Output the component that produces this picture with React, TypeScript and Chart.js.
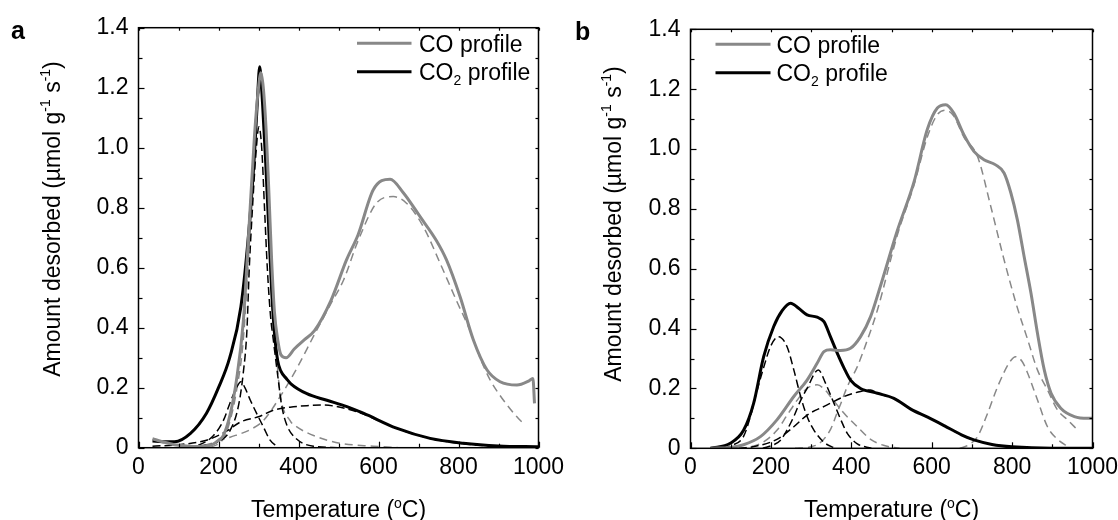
import React, { useEffect, useRef } from 'react';
import { Chart, registerables } from 'chart.js';
Chart.register(...registerables);

const FONT = "'Liberation Sans', Arial, Helvetica, sans-serif";
Chart.defaults.font.family = FONT;

// ---------- axis ticks ----------
const X_TICKS = [0, 200, 400, 600, 800, 1000];
const X_MINOR = [100, 300, 500, 700, 900];
const Y_TICKS = [0, 0.2, 0.4, 0.6, 0.8, 1.0, 1.2, 1.4];
const Y_MINOR = [0.1, 0.3, 0.5, 0.7, 0.9, 1.1, 1.3];

// ---------- panel a ----------
const A_CO_T = [35, 60, 90, 120, 150, 180, 200, 212, 229, 245, 262, 277, 290, 300, 306, 312, 319, 326, 333, 340, 348, 356, 369, 390, 415, 440, 481, 520, 549, 587, 629, 662, 704, 745, 770, 804, 837, 871, 904, 946, 975, 986, 990];
const A_CO_V = [0.03, 0.02, 0.01, 0.006, 0.004, 0.008, 0.025, 0.04, 0.11, 0.226, 0.42, 0.75, 1.04, 1.2, 1.25, 1.2, 1.06, 0.85, 0.62, 0.45, 0.36, 0.31, 0.30, 0.33, 0.36, 0.39, 0.49, 0.626, 0.71, 0.86, 0.895, 0.85, 0.77, 0.69, 0.626, 0.503, 0.36, 0.26, 0.22, 0.209, 0.222, 0.231, 0.148];

const A_CO2_T = [35, 60, 90, 130, 170, 200, 228, 256, 277, 290, 297, 303, 310, 318, 326, 333, 340, 348, 356, 370, 381, 421, 471, 521, 562, 645, 729, 812, 900, 1000];
const A_CO2_V = [0.022, 0.02, 0.02, 0.048, 0.115, 0.2, 0.3, 0.47, 0.74, 0.98, 1.15, 1.27, 1.15, 0.95, 0.72, 0.52, 0.38, 0.29, 0.255, 0.23, 0.213, 0.18, 0.158, 0.137, 0.115, 0.065, 0.031, 0.015, 0.006, 0.003];

// CO2 components (black dashed)
const A_CO2_P1_T = [150, 200, 230, 250, 262, 271, 277, 285, 293, 301, 308, 315, 322, 330, 337, 350, 358, 371, 396, 437, 500];
const A_CO2_P1_V = [0.005, 0.02, 0.06, 0.14, 0.25, 0.39, 0.6, 0.8, 0.97, 1.07, 1.0, 0.8, 0.6, 0.44, 0.36, 0.22, 0.14, 0.075, 0.028, 0.005, 0.0];
const A_CO2_P2_T = [120, 150, 187, 212, 229, 245, 256, 266, 279, 295, 312, 329, 345];
const A_CO2_P2_V = [0.0, 0.008, 0.04, 0.09, 0.15, 0.2, 0.22, 0.2, 0.16, 0.115, 0.07, 0.025, 0.005];
const A_CO2_P3_T = [35, 100, 170, 220, 254, 304, 337, 379, 421, 462, 520, 562, 645, 729, 812, 900, 1000];
const A_CO2_P3_V = [0.005, 0.01, 0.025, 0.055, 0.085, 0.105, 0.125, 0.135, 0.14, 0.142, 0.13, 0.112, 0.065, 0.031, 0.013, 0.004, 0.0];

// CO components (grey dashed)
const A_CO_P1_T = [180, 212, 229, 245, 262, 277, 290, 300, 306, 312, 319, 331, 344, 354, 379, 395, 445, 504, 587, 650];
const A_CO_P1_V = [0.0, 0.03, 0.09, 0.19, 0.36, 0.68, 1.0, 1.17, 1.2, 1.15, 1.0, 0.62, 0.33, 0.18, 0.09, 0.07, 0.037, 0.015, 0.005, 0.0];
const A_CO_P2_T = [100, 170, 206, 229, 279, 312, 354, 396, 437, 481, 513, 549, 598, 637, 670, 712, 754, 795, 829, 854, 879, 912, 946, 962];
const A_CO_P2_V = [0.0, 0.01, 0.025, 0.035, 0.06, 0.09, 0.17, 0.265, 0.37, 0.48, 0.56, 0.69, 0.82, 0.837, 0.815, 0.737, 0.615, 0.49, 0.39, 0.30, 0.226, 0.159, 0.103, 0.081];

// ---------- panel b ----------
const B_CO_T = [50, 100, 132, 174, 215, 257, 290, 315, 332, 348, 373, 398, 423, 448, 472, 514, 556, 589, 614, 635, 655, 680, 705, 730, 759, 780, 797, 813, 830, 847, 863, 880, 897, 921, 955, 988, 1000];
const B_CO_V = [0.0, 0.003, 0.012, 0.039, 0.095, 0.173, 0.228, 0.284, 0.323, 0.329, 0.327, 0.334, 0.373, 0.44, 0.54, 0.725, 0.89, 1.065, 1.137, 1.148, 1.12, 1.048, 0.992, 0.964, 0.947, 0.92, 0.853, 0.764, 0.64, 0.518, 0.385, 0.262, 0.184, 0.134, 0.106, 0.1, 0.1];

const B_CO2_T = [50, 99, 132, 157, 182, 207, 228, 249, 269, 290, 315, 332, 348, 365, 382, 398, 423, 465, 506, 549, 590, 632, 674, 705, 750, 800, 900, 1000];
const B_CO2_V = [0.0, 0.017, 0.06, 0.15, 0.306, 0.407, 0.46, 0.485, 0.468, 0.446, 0.438, 0.423, 0.373, 0.318, 0.268, 0.228, 0.2, 0.184, 0.167, 0.13, 0.104, 0.075, 0.045, 0.028, 0.013, 0.005, 0.0, 0.0];

const B_CO2_P1_T = [80, 100, 132, 149, 166, 182, 199, 219, 240, 257, 274, 290, 307, 332, 360];
const B_CO2_P1_V = [0.0, 0.008, 0.04, 0.106, 0.195, 0.27, 0.34, 0.373, 0.34, 0.262, 0.173, 0.106, 0.061, 0.02, 0.0];
const B_CO2_P2_T = [180, 207, 224, 240, 257, 274, 290, 318, 336, 357, 374, 390, 415, 450];
const B_CO2_P2_V = [0.0, 0.012, 0.027, 0.061, 0.106, 0.16, 0.2, 0.262, 0.217, 0.15, 0.095, 0.05, 0.015, 0.0];
const B_CO2_P3_T = [120, 155, 215, 257, 290, 340, 382, 423, 448, 465, 506, 549, 590, 632, 674, 705, 750, 800, 900];
const B_CO2_P3_V = [0.0, 0.005, 0.03, 0.072, 0.111, 0.145, 0.173, 0.19, 0.195, 0.184, 0.167, 0.13, 0.104, 0.075, 0.045, 0.028, 0.013, 0.005, 0.0];

const B_CO_P1_T = [120, 150, 180, 215, 240, 265, 290, 315, 335, 348, 382, 415, 448, 480, 520];
const B_CO_P1_V = [0.0, 0.005, 0.02, 0.06, 0.11, 0.16, 0.2, 0.212, 0.195, 0.173, 0.117, 0.072, 0.03, 0.01, 0.0];
const B_CO_P2_T = [260, 300, 324, 349, 365, 374, 390, 415, 440, 465, 514, 556, 589, 614, 635, 655, 680, 714, 747, 780, 813, 839, 863, 888, 913, 938, 963];
const B_CO_P2_V = [0.0, 0.005, 0.02, 0.065, 0.12, 0.15, 0.206, 0.273, 0.362, 0.462, 0.71, 0.88, 1.04, 1.115, 1.13, 1.11, 1.04, 0.975, 0.808, 0.63, 0.47, 0.362, 0.262, 0.195, 0.128, 0.095, 0.061];
const B_CO_P3_T = [670, 690, 714, 739, 764, 795, 809, 825, 839, 863, 888, 913, 940];
const B_CO_P3_V = [0.0, 0.01, 0.039, 0.117, 0.206, 0.29, 0.306, 0.29, 0.25, 0.162, 0.072, 0.03, 0.005];

const GREY = '#888888';
const BLACK = '#000000';

type Part = { t: string; sup?: boolean; sub?: boolean };

function partFont(p: Part, size: number) {
  return `${p.sup || p.sub ? Math.round(size * 0.6) : size}px ${FONT}`;
}
function richWidth(ctx: CanvasRenderingContext2D, parts: Part[], size: number) {
  let w = 0;
  for (const p of parts) {
    ctx.font = partFont(p, size);
    w += ctx.measureText(p.t).width;
  }
  return w;
}
function drawRich(ctx: CanvasRenderingContext2D, parts: Part[], x: number, y: number, size: number) {
  let cx = x;
  ctx.textBaseline = 'alphabetic';
  ctx.textAlign = 'left';
  for (const p of parts) {
    ctx.font = partFont(p, size);
    const dy = p.sup ? -size * 0.4 : p.sub ? size * 0.22 : 0;
    ctx.fillText(p.t, cx, y + dy);
    cx += ctx.measureText(p.t).width;
  }
}

const Y_TITLE: Part[] = [
  { t: 'Amount desorbed (\u00B5mol g' },
  { t: '-1', sup: true },
  { t: ' s' },
  { t: '-1', sup: true },
  { t: ')' },
];
const X_TITLE: Part[] = [{ t: 'Temperature (' }, { t: 'o', sup: true }, { t: 'C)' }];
const LEG_CO: Part[] = [{ t: 'CO profile' }];
const LEG_CO2: Part[] = [{ t: 'CO' }, { t: '2', sub: true }, { t: ' profile' }];

const decorPlugin = {
  id: 'decor',
  afterDraw(chart: any) {
    const o = chart.options.plugins.decor;
    const { ctx, chartArea: ca, scales } = chart;
    const xs = scales.x;
    const ys = scales.y;
    ctx.save();
    ctx.strokeStyle = '#000';
    ctx.fillStyle = '#000';
    ctx.lineWidth = 1.5;
    ctx.setLineDash([]);
    ctx.strokeRect(ca.left, ca.top, ca.right - ca.left, ca.bottom - ca.top);
    const seg = (x1: number, y1: number, x2: number, y2: number) => {
      ctx.beginPath();
      ctx.moveTo(x1, y1);
      ctx.lineTo(x2, y2);
      ctx.stroke();
    };
    ctx.lineWidth = 1.2;
    X_TICKS.forEach((t) => {
      const p = Math.round(xs.getPixelForValue(t)) + 0.5;
      seg(p, ca.bottom, p, ca.bottom - 6);
      seg(p, ca.top, p, ca.top + 3);
    });
    X_MINOR.forEach((t) => {
      const p = Math.round(xs.getPixelForValue(t)) + 0.5;
      seg(p, ca.bottom, p, ca.bottom - 4);
      seg(p, ca.top, p, ca.top + 3);
    });
    Y_TICKS.forEach((t) => {
      const p = Math.round(ys.getPixelForValue(t)) + 0.5;
      seg(ca.left, p, ca.left + 6, p);
      seg(ca.right, p, ca.right - 3, p);
    });
    Y_MINOR.forEach((t) => {
      const p = Math.round(ys.getPixelForValue(t)) + 0.5;
      seg(ca.left, p, ca.left + 4, p);
      seg(ca.right, p, ca.right - 3, p);
    });

    // x title
    const xw = richWidth(ctx, X_TITLE, 23);
    drawRich(ctx, X_TITLE, (ca.left + ca.right) / 2 - xw / 2, 517, 23);

    // y title
    ctx.save();
    ctx.translate(o.yTitleX, o.yTitleCy);
    ctx.rotate(-Math.PI / 2);
    const yw = richWidth(ctx, Y_TITLE, 23);
    drawRich(ctx, Y_TITLE, -yw / 2, 0, 23);
    ctx.restore();

    // panel letter
    ctx.font = `bold 25px ${FONT}`;
    ctx.textAlign = 'left';
    ctx.textBaseline = 'alphabetic';
    ctx.fillText(o.letter, o.letterX, o.letterY);

    // legend
    ctx.lineWidth = 3;
    ctx.strokeStyle = GREY;
    seg(o.legX1, o.legY1, o.legX2, o.legY1);
    ctx.strokeStyle = BLACK;
    seg(o.legX1, o.legY2, o.legX2, o.legY2);
    drawRich(ctx, LEG_CO, o.legTextX, o.legY1 + 8.3, 23);
    drawRich(ctx, LEG_CO2, o.legTextX, o.legY2 + 8.3, 23);
    ctx.restore();
  },
};

function pts(T: number[], V: number[]) {
  return T.map((t, i) => ({ x: t, y: V[i] }));
}

function solid(label: string, T: number[], V: number[], color: string, order: number) {
  return {
    label,
    data: pts(T, V),
    borderColor: color,
    borderWidth: 3,
    pointRadius: 0,
    fill: false,
    cubicInterpolationMode: 'monotone' as const,
    order,
  };
}
function dashed(label: string, T: number[], V: number[], color: string, order: number) {
  return {
    label,
    data: pts(T, V),
    borderColor: color,
    borderWidth: 1.5,
    borderDash: color === GREY ? [8, 5] : [8, 4],
    pointRadius: 0,
    fill: false,
    cubicInterpolationMode: 'monotone' as const,
    order,
  };
}

function makeChart(canvas: HTMLCanvasElement, cfg: any) {
  return new Chart(canvas, {
    type: 'line',
    data: { datasets: cfg.datasets },
    options: {
      responsive: false,
      animation: false,
      devicePixelRatio: 1,
      layout: { padding: { left: 0, top: cfg.top, right: cfg.right, bottom: 0 } },
      plugins: {
        legend: { display: false },
        tooltip: { enabled: false },
        decor: cfg.decor,
      } as any,
      scales: {
        x: {
          type: 'linear',
          min: 0,
          max: 1000,
          grid: { display: false, drawTicks: false },
          border: { display: false },
          ticks: { padding: 6, color: '#000', font: { size: 23, family: FONT }, callback: (v: any) => String(v) },
          afterBuildTicks: (s: any) => {
            s.ticks = X_TICKS.map((v) => ({ value: v }));
          },
          afterFit: (s: any) => {
            s.height = cfg.xHeight;
          },
        },
        y: {
          type: 'linear',
          min: 0,
          max: 1.4,
          grid: { display: false, drawTicks: false },
          border: { display: false },
          ticks: {
            padding: 10,
            color: '#000',
            font: { size: 23, family: FONT },
            callback: (v: any) => (Number(v) === 0 ? '0' : Number(v).toFixed(1)),
          },
          afterBuildTicks: (s: any) => {
            s.ticks = Y_TICKS.map((v) => ({ value: v }));
          },
          afterFit: (s: any) => {
            s.width = cfg.yWidth;
          },
        },
      },
    },
    plugins: [decorPlugin],
  } as any);
}

export default function App() {
  const refA = useRef<HTMLCanvasElement>(null);
  const refB = useRef<HTMLCanvasElement>(null);

  useEffect(() => {
    const a = makeChart(refA.current!, {
      top: 27.7,
      right: 600 - 538.5,
      yWidth: 138.5,
      xHeight: 520 - 447.7,
      decor: {
        letter: 'a', letterX: 11, letterY: 39,
        yTitleX: 59.5, yTitleCy: 219,
        legX1: 357, legX2: 411.5, legY1: 43.3, legY2: 71.7, legTextX: 419,
      },
      datasets: [
        solid('CO profile', A_CO_T, A_CO_V, GREY, 0),
        solid('CO2 profile', A_CO2_T, A_CO2_V, BLACK, 1),
        dashed('CO2 fit 1', A_CO2_P1_T, A_CO2_P1_V, BLACK, 2),
        dashed('CO2 fit 2', A_CO2_P2_T, A_CO2_P2_V, BLACK, 2),
        dashed('CO2 fit 3', A_CO2_P3_T, A_CO2_P3_V, BLACK, 2),
        dashed('CO fit 1', A_CO_P1_T, A_CO_P1_V, GREY, 3),
        dashed('CO fit 2', A_CO_P2_T, A_CO_P2_V, GREY, 3),
      ],
    });
    const b = makeChart(refB.current!, {
      top: 29.3,
      right: 600 - 532.5,
      yWidth: 130.5,
      xHeight: 520 - 448.3,
      decor: {
        letter: 'b', letterX: 15, letterY: 40,
        yTitleX: 60.5, yTitleCy: 224,
        legX1: 155.5, legX2: 210.5, legY1: 44.3, legY2: 72.7, legTextX: 216.5,
      },
      datasets: [
        solid('CO profile', B_CO_T, B_CO_V, GREY, 0),
        solid('CO2 profile', B_CO2_T, B_CO2_V, BLACK, 1),
        dashed('CO2 fit 1', B_CO2_P1_T, B_CO2_P1_V, BLACK, 2),
        dashed('CO2 fit 2', B_CO2_P2_T, B_CO2_P2_V, BLACK, 2),
        dashed('CO2 fit 3', B_CO2_P3_T, B_CO2_P3_V, BLACK, 2),
        dashed('CO fit 1', B_CO_P1_T, B_CO_P1_V, GREY, 3),
        dashed('CO fit 2', B_CO_P2_T, B_CO_P2_V, GREY, 3),
        dashed('CO fit 3', B_CO_P3_T, B_CO_P3_V, GREY, 3),
      ],
    });
    return () => {
      a.destroy();
      b.destroy();
    };
  }, []);

  return (
    <div style={{ position: 'absolute', left: 0, top: 0, width: 1118, height: 520, overflow: 'hidden', background: '#fff' }}>
      <canvas ref={refA} width={600} height={520} style={{ position: 'absolute', left: 0, top: 0, width: 600, height: 520 }} />
      <canvas ref={refB} width={600} height={520} style={{ position: 'absolute', left: 560, top: 0, width: 600, height: 520 }} />
    </div>
  );
}
